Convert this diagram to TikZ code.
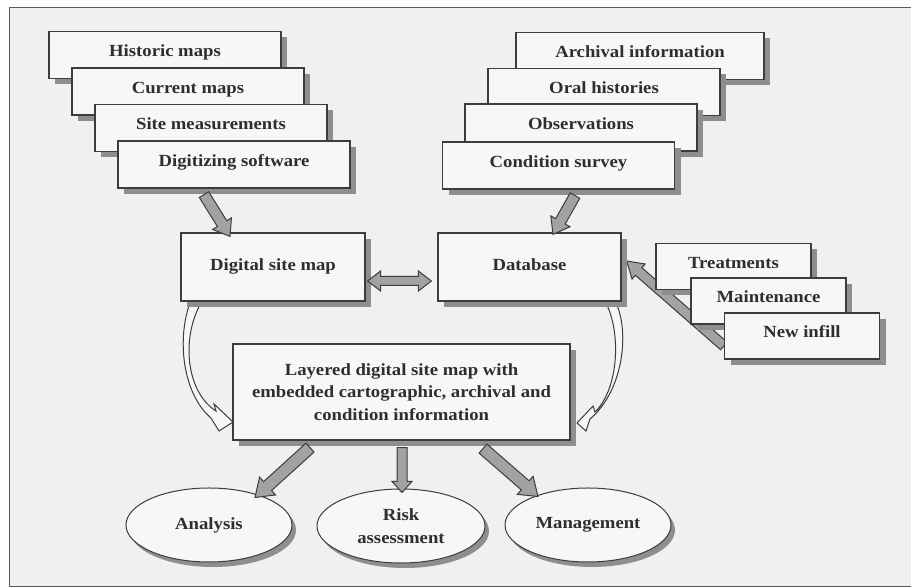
\documentclass[tikz,border=0pt]{standalone}
\usepackage{fontspec}
\setmainfont{Liberation Serif}[FakeStretch=1.1]
\usetikzlibrary{calc,shapes.geometric,shadows}
\definecolor{bg}{HTML}{F0F0F0}
\definecolor{boxfill}{HTML}{F7F7F7}
\definecolor{edge}{HTML}{3C3C3C}
\definecolor{shade}{HTML}{8E8E8E}
\definecolor{arrfill}{HTML}{A2A2A2}
\definecolor{txt}{HTML}{2E2E2E}
\pgfdeclarelayer{bgl}
\pgfdeclarelayer{arr}
\pgfsetlayers{bgl,arr,main}
\newcommand\fatarr[5]{%
 \coordinate (fah) at ($(#2)!#5!(#1)$);
 \filldraw[fatarrow] ($(#1)!#3!90:(#2)$) -- ($(fah)!#3!-90:(#1)$) -- ($(fah)!#4!-90:(#1)$) -- (#2) -- ($(fah)!#4!90:(#1)$) -- ($(fah)!#3!90:(#1)$) -- ($(#1)!#3!-90:(#2)$) -- cycle;
}
\newcommand\dblarr[5]{%
 \coordinate (fah) at ($(#2)!#5!(#1)$);
 \coordinate (fat) at ($(#1)!#5!(#2)$);
 \filldraw[fatarrow] (#1) -- ($(fat)!#4!-90:(#2)$) -- ($(fat)!#3!-90:(#2)$) -- ($(fah)!#3!90:(#1)$) -- ($(fah)!#4!90:(#1)$) -- (#2) -- ($(fah)!#4!-90:(#1)$) -- ($(fah)!#3!-90:(#1)$) -- ($(fat)!#3!90:(#2)$) -- ($(fat)!#4!90:(#2)$) -- cycle;
}
\tikzset{
 basefont/.style={font=\fontsize{17}{22.5}\selectfont\bfseries, text=txt},
 boxbase/.style={basefont, rectangle, draw=edge, line width=1.2pt, fill=boxfill, inner sep=0pt,
   drop shadow={fill=shade, opacity=1, shadow xshift=6pt, shadow yshift=-6pt}},
 stackbox/.style={boxbase, minimum width=232pt, minimum height=47pt, text height=12pt, text depth=8pt},
 smallbox/.style={boxbase, minimum width=155pt, minimum height=46pt, text height=12pt, text depth=8pt},
 midbox/.style={boxbase, minimum height=68pt, text height=12pt, text depth=5pt},
 oval/.style={basefont, ellipse, draw=edge, line width=1pt, fill=boxfill, inner sep=0pt, align=center,
   minimum width=166pt, minimum height=74pt,
   drop shadow={fill=shade, opacity=1, shadow xshift=4pt, shadow yshift=-5pt}},
 fatarrow/.style={fill=arrfill, draw=edge, line width=1pt, line join=miter},
 thinarrow/.style={fill=boxfill, draw=edge, line width=1pt, line join=miter},
}
\begin{document}
\begin{tikzpicture}[x=1pt,y=1pt]
\useasboundingbox (0,0) rectangle (911,588);
\begin{pgfonlayer}{bgl}
\fill[white] (0,0) rectangle (911,588);
\fill[bg] (9,1) rectangle (911,580);
\draw[edge!85, line width=1pt] (911,580) -- (9,580) -- (9,1) -- (911,1);
\end{pgfonlayer}

% left stack
\node[stackbox] (hist) at (165,533) {Historic maps};
\node[stackbox] (curr) at (188,496.5) {Current maps};
\node[stackbox] (site) at (211,460) {Site measurements};
\node[stackbox] (digi) at (234,423.5) {Digitizing software};
% right stack
\node[stackbox, minimum width=248pt] (arch) at (640,532) {Archival information};
\node[stackbox] (oral) at (604,496) {Oral histories};
\node[stackbox] (obs) at (581,460.5) {Observations};
\node[stackbox] (cond) at (558.5,422.5) {Condition survey};
% middle
\node[midbox, minimum width=184pt] (dsm) at (273,321) {Digital site map};
\node[midbox, minimum width=183pt] (db) at (529.5,321) {Database};
% small stack
\node[smallbox] (treat) at (733.5,321.5) {Treatments};
\node[smallbox] (maint) at (768.5,287) {Maintenance};
\node[smallbox] (newinf) at (802,252) {New infill};
% layered
\node[boxbase, minimum width=337pt, minimum height=96pt, align=center] (lay) at (401.5,196)
 {Layered digital site map with\\embedded cartographic, archival and\\condition information};
% ellipses
\node[oval] (ana) at (209,63) {Analysis};
\node[oval, minimum width=168pt] (risk) at (401,62) {Risk\\assessment};
\node[oval] (mgmt) at (588,63) {Management};

% arrows behind nodes
\begin{pgfonlayer}{arr}
\coordinate (nit) at ($(newinf.west)+(0,-10)$);
\coordinate (nih) at ($(db.east)+(5,6)$);
\fatarr{nit}{nih}{5pt}{10pt}{16pt}
% left curved arrow
\draw[thinarrow] (190,285) .. controls (177,250) and (182,195) .. (211,170)
  -- (219,157) -- (233,166) -- (214,184) -- (216,177)
  .. controls (186,196) and (181,250) .. (201,285) -- cycle;
% right curved arrow
\draw[thinarrow] (617,283) .. controls (630,250) and (621,195) .. (590,169)
  -- (586,157) -- (577,165) -- (593,182) -- (595,176)
  .. controls (617,197) and (622,250) .. (607,283) -- cycle;
\end{pgfonlayer}

% arrows in front
\coordinate (a1t) at ($(digi.south)+(-30,-6)$);
\coordinate (a1h) at ($(dsm.north)+(-43,-4)$);
\fatarr{a1t}{a1h}{5.5pt}{11pt}{15pt}
\coordinate (a2t) at ($(cond.south)+(16.5,-6)$);
\coordinate (a2h) at ($(db.north)+(23.5,-2)$);
\fatarr{a2t}{a2h}{5.5pt}{11pt}{15pt}
\coordinate (a3t) at ($(dsm.east)+(2,-14)$);
\coordinate (a3h) at ($(db.west)+(-6,-14)$);
\dblarr{a3t}{a3h}{4.5pt}{10pt}{13pt}
\coordinate (a4t) at ($(lay.south)+(-91.5,-7)$);
\coordinate (a4h) at ($(ana.north)+(46,-10)$);
\fatarr{a4t}{a4h}{6pt}{12pt}{17pt}
\coordinate (a5t) at ($(lay.south)+(0.5,-7)$);
\coordinate (a5h) at ($(risk.north)+(1,-4)$);
\fatarr{a5t}{a5h}{5pt}{10pt}{11pt}
\coordinate (a6t) at ($(lay.south)+(81.5,-8)$);
\coordinate (a6h) at ($(mgmt.north)+(-50,-9)$);
\fatarr{a6t}{a6h}{6pt}{12pt}{17pt}
\end{tikzpicture}
\end{document}
